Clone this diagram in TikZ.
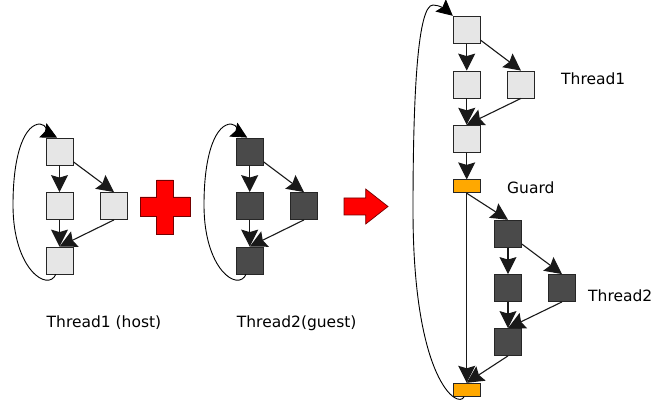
\documentclass[tikz,border=0pt]{standalone}
\usepackage{fontspec}
\setmainfont{DejaVu Sans}
\usepackage{tikz}
\usetikzlibrary{arrows.meta}
\definecolor{boxLight}{HTML}{E6E6E6}
\definecolor{boxDark}{HTML}{4A4A4A}
\definecolor{guardOrange}{HTML}{FFA800}
\definecolor{plusRed}{HTML}{FF0000}
\begin{document}
\begin{tikzpicture}[x=1pt, y=1pt, font=\fontsize{15.5}{18}\selectfont,
  lightbox/.style={draw=black!85, line width=0.8pt, fill=boxLight, minimum size=27pt, inner sep=0pt},
  darkbox/.style={lightbox, fill=boxDark},
  guardbox/.style={lightbox, fill=guardOrange, minimum height=13pt},
  edge/.style={-{Stealth[length=17pt, width=17pt, inset=2.5pt]}, line width=1.1pt, black!90},
  backedge/.style={-{Stealth[length=16pt, width=16pt, inset=2.5pt]}, line width=0.9pt},
  label/.style={inner sep=0pt}]
\useasboundingbox (0,0) rectangle (654,-406);
% Thread1 (host)
\node[lightbox] (h1) at (59.5,-151.5) {};
\node[lightbox] (h2) at (59.5,-206) {};
\node[lightbox] (h3) at (114,-206) {};
\node[lightbox] (h4) at (59.5,-260.5) {};
\draw[edge] (h1) -- (h2);
\draw[edge] (h1) -- (h3.north);
\draw[edge] (h2) -- (h4);
\draw[edge] (h3.south) -- (h4.north);
\draw[backedge] (h4.255) .. controls (48,-292) and (13,-270) .. (13,-205)
  .. controls (13,-150) and (26,-124) .. (40,-124) .. controls (46,-124) and (50,-134) .. (h1.100);
\node[label] (l1) at (104,-323) {Thread1 (host)};
% plus sign
\draw[fill=plusRed, draw=red!45!black, line width=0.7pt] (156.7,-180) -- (173.3,-180) -- (173.3,-197)
  -- (190,-197) -- (190,-216) -- (173.3,-216) -- (173.3,-234) -- (156.7,-234) -- (156.7,-216)
  -- (140,-216) -- (140,-197) -- (156.7,-197) -- cycle;
% Thread2 (guest)
\node[darkbox] (g1) at (249.7,-151.5) {};
\node[darkbox] (g2) at (249.7,-206) {};
\node[darkbox] (g3) at (304,-206) {};
\node[darkbox] (g4) at (249.7,-260.5) {};
\draw[edge] (g1) -- (g2);
\draw[edge] (g1) -- (g3.north);
\draw[edge] (g2) -- (g4);
\draw[edge] (g3.south) -- (g4.north);
\draw[backedge] (g4.255) .. controls (238,-292) and (204,-270) .. (204,-205)
  .. controls (204,-150) and (217,-124) .. (231,-124) .. controls (237,-124) and (241,-134) .. (g1.100);
\node[label] (l2) at (296.7,-323) {Thread2(guest)};
% result arrow
\draw[fill=plusRed, draw=red!45!black, line width=0.7pt] (344,-198) -- (365.7,-198) -- (365.7,-189)
  -- (388,-206.5) -- (365.7,-224) -- (365.7,-215) -- (344,-215) -- cycle;
% merged: Thread1 part
\node[lightbox] (m1) at (466.7,-29.7) {};
\node[lightbox] (m2) at (466.7,-84.5) {};
\node[lightbox] (m3) at (521,-84.5) {};
\node[lightbox] (m4) at (466.7,-138.7) {};
\draw[edge] (m1) -- (m2);
\draw[edge] (m1) -- (m3.north);
\draw[edge] (m2) -- (m4);
\draw[edge] (m3.south) -- (m4.north);
\node[label, anchor=west] (l3) at (561,-79) {Thread1};
% guards
\node[guardbox] (guard) at (466.7,-186.3) {};
\node[guardbox] (guardend) at (466.7,-389.7) {};
\draw[edge] (m4) -- (guard);
\node[label, anchor=west] (l4) at (507,-187.7) {Guard};
% merged: Thread2 part
\node[darkbox] (n1) at (508,-233.7) {};
\node[darkbox] (n2) at (508,-288) {};
\node[darkbox] (n3) at (562,-288) {};
\node[darkbox] (n4) at (508,-342) {};
\draw[edge] (guard.south) -- (n1.north);
\draw[edge] (n1) -- (n2);
\draw[edge] (n1) -- (n3.north);
\draw[edge] (n2) -- (n4);
\draw[edge] (n3.south) -- (n4.north);
\draw[edge] (n4.south) -- (guardend.north);
\draw[edge] (guard.south) -- (guardend.north);
\node[label, anchor=west] (l5) at (588,-296) {Thread2};
\draw[backedge] (guardend.250) .. controls (458,-410) and (413,-380) .. (413,-210)
  .. controls (413,-90) and (418,-5) .. (433,-5) .. controls (440,-5) and (446,-10) .. (m1.north west);
\end{tikzpicture}
\end{document}
